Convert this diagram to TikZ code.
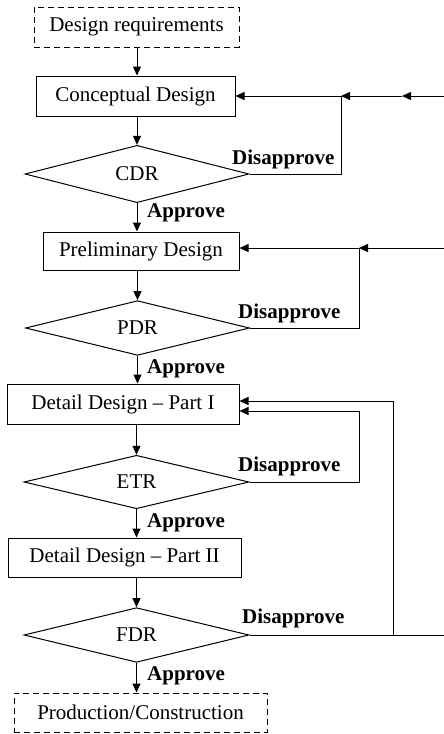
\documentclass[tikz,border=0pt]{standalone}
\usepackage{fontspec}
\setmainfont{Liberation Serif}
\usetikzlibrary{shapes.geometric,arrows.meta}
\begin{document}
\begin{tikzpicture}[x=1pt,y=-1pt,
 every node/.style={font=\fontsize{21}{25}\selectfont, inner sep=0pt},
 box/.style={draw, line width=1pt, minimum height=40pt},
 dbox/.style={box, dash pattern=on 6pt off 4pt},
 dec/.style={draw, diamond, line width=1pt, minimum width=224pt, minimum height=52pt},
 lbl/.style={anchor=base west, font=\fontsize{21}{25}\selectfont\bfseries},
 line/.style={line width=1pt},
 arr/.style={line, -{Triangle[length=9pt,width=8pt]}}]
\useasboundingbox (0,0) rectangle (444,734);

\node[dbox, minimum width=205pt] (req) at (136.5,27) {Design requirements};
\node[box, minimum width=199pt] (cd) at (135.5,96) {Conceptual Design};
\node[dec] (cdr) at (137,174) {CDR};
\node[box, minimum width=196pt, minimum height=38pt] (pd) at (141,251) {Preliminary Design};
\node[dec] (pdr) at (137.5,328) {PDR};
\node[box, minimum width=232pt] (dd1) at (123,404) {Detail Design \textendash\ Part I};
\node[dec, minimum width=225pt] (etr) at (136.5,482) {ETR};
\node[box, minimum width=233pt, minimum height=39pt] (dd2) at (124.5,557.5) {Detail Design \textendash\ Part II};
\node[dec, minimum width=225pt] (fdr) at (136.5,635) {FDR};
\node[dbox, minimum width=253pt, minimum height=39pt] (prod) at (140.5,712.5) {Production/Construction};

% main flow
\draw[arr] (req.south -| cdr.north) -- (cd.north -| cdr.north);
\draw[arr] (cd.south -| cdr.north) -- (cdr.north);
\draw[arr] (cdr.south) -- (pd.north -| cdr.south);
\draw[arr] (pd.south -| pdr.north) -- (pdr.north);
\draw[arr] (pdr.south) -- (dd1.north -| pdr.south);
\draw[arr] (dd1.south -| etr.north) -- (etr.north);
\draw[arr] (etr.south) -- (dd2.north -| etr.south);
\draw[arr] (dd2.south -| fdr.north) -- (fdr.north);
\draw[arr] (fdr.south) -- (prod.north -| fdr.south);

% CDR loop
\coordinate (j1) at (341,96);
\coordinate (m1) at (402,96);
\coordinate (r1) at (444,96);
\draw[line] (cdr.east) -| (j1);
\draw[arr] (r1) -- (m1);
\draw[arr] (m1) -- (j1);
\draw[arr] (j1) -- (cd.east |- j1);

% PDR loop
\coordinate (j2) at (359,248);
\coordinate (r2) at (444,248);
\draw[line] (pdr.east) -| (j2);
\draw[arr] (r2) -- (j2);
\draw[arr] (j2) -- (pd.east |- j2);

% ETR loop
\coordinate (j3) at (359,411);
\draw[arr] (etr.east) -| (j3) -- (dd1.east |- j3);

% FDR loop
\coordinate (j4) at (393,635);
\coordinate (r4) at (444,635);
\coordinate (t4) at (393,401);
\draw[line] (fdr.east) -- (r4);
\draw[arr] (j4) -- (t4) -- (dd1.east |- t4);

% labels
\node[lbl] (d1) at (232,164) {Disapprove};
\node[lbl] (d2) at (238,318) {Disapprove};
\node[lbl] (d3) at (238,471) {Disapprove};
\node[lbl] (d4) at (242,623) {Disapprove};
\node[lbl] (a1) at (147,217) {Approve};
\node[lbl] (a2) at (147,373) {Approve};
\node[lbl] (a3) at (147,527) {Approve};
\node[lbl] (a4) at (147,680) {Approve};
\end{tikzpicture}
\end{document}
